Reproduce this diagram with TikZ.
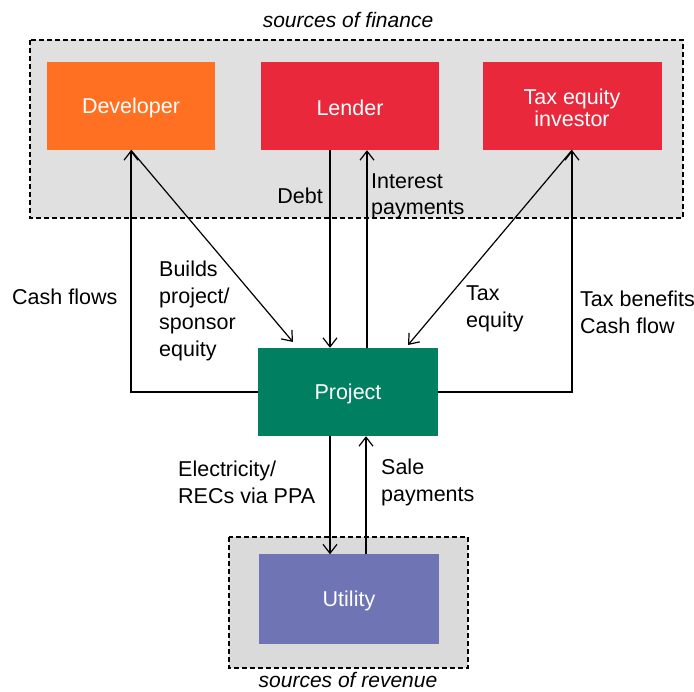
\documentclass[tikz,border=0pt]{standalone}
\usepackage{fontspec}
\setmainfont{Liberation Sans}
\usetikzlibrary{arrows.meta}
\definecolor{devcol}{RGB}{255,112,34}
\definecolor{redcol}{RGB}{233,40,60}
\definecolor{projcol}{RGB}{0,128,96}
\definecolor{utilcol}{RGB}{110,116,180}
\definecolor{grayfill}{RGB}{224,224,224}
\definecolor{grayfill2}{RGB}{218,218,218}
\tikzset{
  ent/.style={rectangle, draw=none, text=white, inner sep=0pt, align=center,
    text height=19.5pt, font=\fontsize{21.5}{22}\selectfont},
  grp/.style={draw=black, dashed, dash pattern=on 5pt off 3pt, line width=1.1pt},
  arr/.style={draw=black, line width=1.2pt, -{Straight Barb[length=9pt,width=14pt,line width=1.2pt]}},
  lab/.style={inner sep=0pt, align=left, font=\fontsize{21.5}{26.5}\selectfont},
  ttl/.style={inner sep=0pt, font=\fontsize{21}{24}\selectfont\itshape},
}
\begin{document}
\begin{tikzpicture}[x=1pt,y=-1pt]
\useasboundingbox (0,0) rectangle (694,692);
% group boxes
\draw[grp, fill=grayfill] (30,40) rectangle (683,218);
\draw[grp, fill=grayfill2] (229,537) rectangle (468,668);
\node[ttl] (tfin) at (348,20) {sources of finance};
\node[ttl] (trev) at (348,680) {sources of revenue};
% entities
\node[ent, fill=devcol, minimum width=168pt, minimum height=88pt] (dev) at (131,106) {Developer};
\node[ent, fill=redcol, minimum width=178pt, minimum height=88pt] (lend) at (350,106) {Lender};
\node[ent, fill=redcol, minimum width=179pt, minimum height=88pt, text height=41.5pt] (tax) at (572,106) {Tax equity\\investor};
\node[ent, fill=projcol, minimum width=180pt, minimum height=88pt] (proj) at (348,392) {Project};
\node[ent, fill=utilcol, minimum width=180pt, minimum height=89pt] (util) at (349,599) {Utility};
% free ends
\coordinate (bpEnd) at (293,342);
\coordinate (teEnd) at (408,345);
% connectors
\draw[arr] (proj.west) -| (dev.south);
\draw[arr] (dev.south) -- (bpEnd);
\draw[arr] ([xshift=-20pt]lend.south) -- ([xshift=-20pt]lend.south |- proj.north);
\draw[arr] ([xshift=17pt]lend.south |- proj.north) -- ([xshift=17pt]lend.south);
\draw[arr] (tax.south) -- (teEnd);
\draw[arr] (proj.east) -| (tax.south);
\draw[arr] ([xshift=-18pt]proj.south) -- ([xshift=-18pt]proj.south |- util.north);
\draw[arr] ([xshift=18pt]proj.south |- util.north) -- ([xshift=18pt]proj.south);
% labels
\node[lab, anchor=east] (ldebt) at (323,196) {Debt};
\node[lab, anchor=west] (lint) at (371,196.5) {Interest\\payments};
\node[lab, anchor=west] (lcash) at (12,297) {Cash flows};
\node[lab, anchor=west] (lbuild) at (159,311) {Builds\\project/\\sponsor\\equity};
\node[lab, anchor=west] (lte) at (466,309) {Tax\\equity};
\node[lab, anchor=west] (ltb) at (580,312.5) {Tax benefits\\Cash flow};
\node[lab, anchor=west] (lel) at (178,482.5) {Electricity/\\RECs via PPA};
\node[lab, anchor=west] (lsale) at (381,482.5) {Sale\\payments};
\end{tikzpicture}
\end{document}
